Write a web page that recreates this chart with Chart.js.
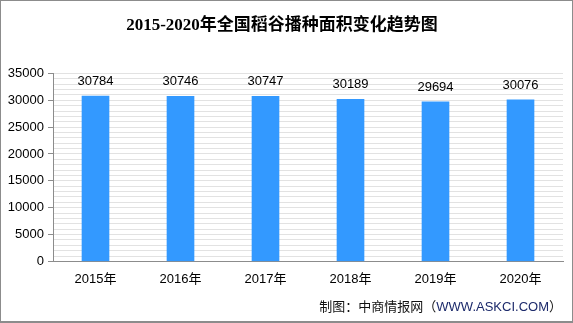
<!DOCTYPE html>
<html>
<head>
<meta charset="utf-8">
<script src="https://cdn.jsdelivr.net/npm/chart.js@4/dist/chart.umd.min.js"></script>
<style>
  html, body { margin: 0; padding: 0; background: #fff; }
  #wrap { position: relative; width: 571px; height: 320px; border: 1px solid #8c8c8c; border-bottom-width: 2px; background: #fff; }
  #credit { position: absolute; right: 10px; top: 295px; font: 13px "Noto Sans CJK SC", sans-serif; color: #111; white-space: nowrap; }
  #credit .url { color: #1c2a6b; font-family: "Liberation Sans", Arial, sans-serif; }
</style>
</head>
<body>
<div id="wrap">
  <canvas id="c" width="571" height="320"></canvas>
  <div id="credit">制图：中商情报网（<span class="url">WWW.ASKCI.COM</span>）</div>
</div>
<script>
// 数据
const years = ["2015年", "2016年", "2017年", "2018年", "2019年", "2020年"];
const area = [30784, 30746, 30747, 30189, 29694, 30076];
const yMax = 35000;
const yMajor = 5000;

const BAR = "#3399FF";

// 柱顶数值标签
const valueLabels = {
  id: "valueLabels",
  afterDatasetsDraw(chart) {
    const ctx = chart.ctx;
    const meta = chart.getDatasetMeta(0);
    ctx.save();
    ctx.font = "13px 'Liberation Sans', Arial, sans-serif";
    ctx.fillStyle = "#000";
    ctx.textAlign = "center";
    ctx.textBaseline = "bottom";
    meta.data.forEach((bar, i) => {
      ctx.fillText(String(area[i]), bar.x, bar.y - 8);
    });
    ctx.restore();
  },
};

new Chart(document.getElementById("c"), {
  type: "bar",
  data: {
    labels: years,
    datasets: [{
      data: area,
      backgroundColor: BAR,
      barThickness: 27,
      borderWidth: 0,
    }],
  },
  options: {
    responsive: false,
    animation: false,
    layout: { padding: { top: 0, right: 9, bottom: 32, left: 0 } },
    plugins: {
      legend: { display: false },
      tooltip: { enabled: false },
      title: {
        display: true,
        text: "2015-2020年全国稻谷播种面积变化趋势图",
        color: "#000",
        font: { family: "'Liberation Serif', 'Noto Sans CJK SC', serif", size: 17, weight: "bold" },
        padding: { top: 14, bottom: 38 },
      },
    },
    scales: {
      x: {
        grid: { display: false },
        border: { color: "#8c8c8c" },
        ticks: { color: "#000", font: { family: "'Liberation Sans', 'Noto Sans CJK SC', sans-serif", size: 13 }, padding: 2, maxRotation: 0 },
      },
      y: {
        min: 0,
        max: yMax,
        afterFit: (s) => { s.width = 52; },
        border: { color: "#8c8c8c" },
        grid: {
          color: "#e2e2e2",
          tickLength: 5,
          tickColor: (c) => (c.tick && c.tick.value % yMajor === 0 ? "#8c8c8c" : "rgba(0,0,0,0)"),
        },
        ticks: {
          stepSize: 1000,
          autoSkip: false,
          color: "#000",
          padding: 4,
          font: { family: "'Liberation Sans', Arial, sans-serif", size: 13 },
          callback: (v) => (v % yMajor === 0 ? String(v) : ""),
        },
      },
    },
  },
  plugins: [valueLabels],
});
</script>
</body>
</html>
